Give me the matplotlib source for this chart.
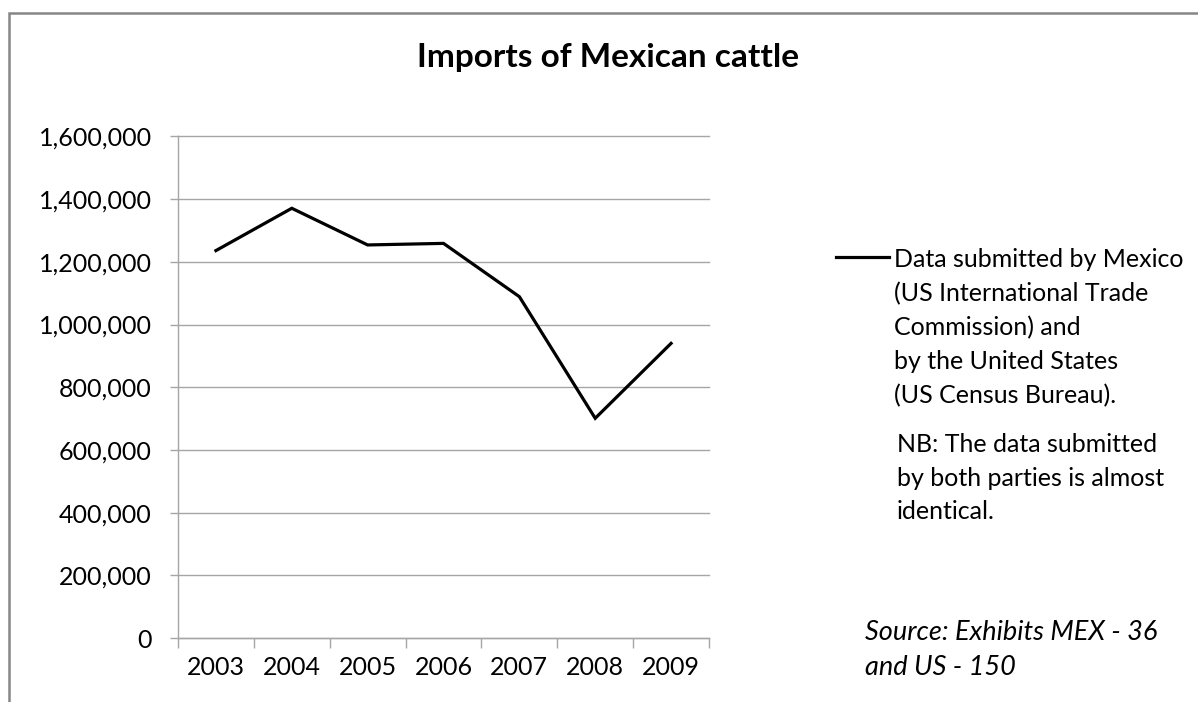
import matplotlib
matplotlib.use("Agg")
import matplotlib.pyplot as plt
from matplotlib.patches import Rectangle
import numpy as np

plt.rcParams['font.family'] = ['Lato', 'DejaVu Sans']

years = ['2003', '2004', '2005', '2006', '2007', '2008', '2009']
imports = [1236000, 1371000, 1254000, 1259000, 1089000, 701000, 940000]
yticks = [0, 200000, 400000, 600000, 800000, 1000000, 1200000, 1400000, 1600000]

series_label = ("Data submitted by Mexico\n(US International Trade\n"
                "Commission) and\nby the United States\n(US Census Bureau).")
note = "NB: The data submitted\nby both parties is almost\nidentical."
source = "Source: Exhibits MEX - 36\nand US - 150"

GRID = '#a6a6a6'
W, H = 1198, 702
FS = 18

fig = plt.figure(figsize=(W / 100, H / 100), dpi=100)
ax = fig.add_axes([178 / W, 1 - 638 / H, (709 - 178) / W, (638 - 136.5) / H])

x = np.arange(len(years))
ax.plot(x, imports, color='black', lw=2.3, solid_joinstyle='miter',
        label=series_label)

ax.set_xlim(-0.5, len(years) - 0.5)
ax.set_ylim(0, 1600000)
ax.set_yticks(yticks)
ax.set_yticklabels([f"{v:,}" for v in yticks])
ax.yaxis.grid(True, color=GRID, lw=1)
for gl in ax.get_ygridlines():
    gl.set_clip_on(False)
ax.set_axisbelow(True)

# categories sit between the tick marks
ax.set_xticks(x)
ax.set_xticklabels(years)
ax.set_xticks(np.arange(-0.5, len(years)), minor=True)
ax.tick_params(axis='x', which='major', length=0, pad=13, labelsize=FS)
ax.tick_params(axis='x', which='minor', length=7, color=GRID, width=1)
ax.tick_params(axis='y', length=6, color=GRID, width=1, pad=13, labelsize=FS)

for side in ['top', 'right']:
    ax.spines[side].set_visible(False)
for side in ['left', 'bottom']:
    ax.spines[side].set_color(GRID)
    ax.spines[side].set_linewidth(1)

fig.text(608 / W, 1 - 57 / H, "Imports of Mexican cattle", ha='center',
         va='center', fontsize=24, fontweight='bold')

leg = ax.legend(loc='upper left', bbox_to_anchor=(836 / W, 1 - 248 / H),
                bbox_transform=fig.transFigure, frameon=False, fontsize=FS,
                handlelength=2.1, handletextpad=0.2, borderpad=0,
                borderaxespad=0)
for t in leg.get_texts():
    t.set_linespacing(1.56)
# keep the legend line level with the first line of its label
for row in leg._legend_handle_box.get_children():
    for packer in row.get_children():
        packer.align = 'top'

fig.text(897 / W, 1 - 433 / H, note, ha='left', va='top', fontsize=FS,
         linespacing=1.56)
fig.text(865 / W, 1 - 620 / H, source, ha='left', va='top', fontsize=19.5,
         style='italic', linespacing=1.52)

# outer chart frame, running off the right and bottom edges
fig.patches.append(Rectangle((8.5 / W, -0.1), 1.2, 1.1 - 12.5 / H,
                             transform=fig.transFigure, fill=False,
                             edgecolor='#868686', lw=1.8))

fig.savefig('out.png', dpi=100)
